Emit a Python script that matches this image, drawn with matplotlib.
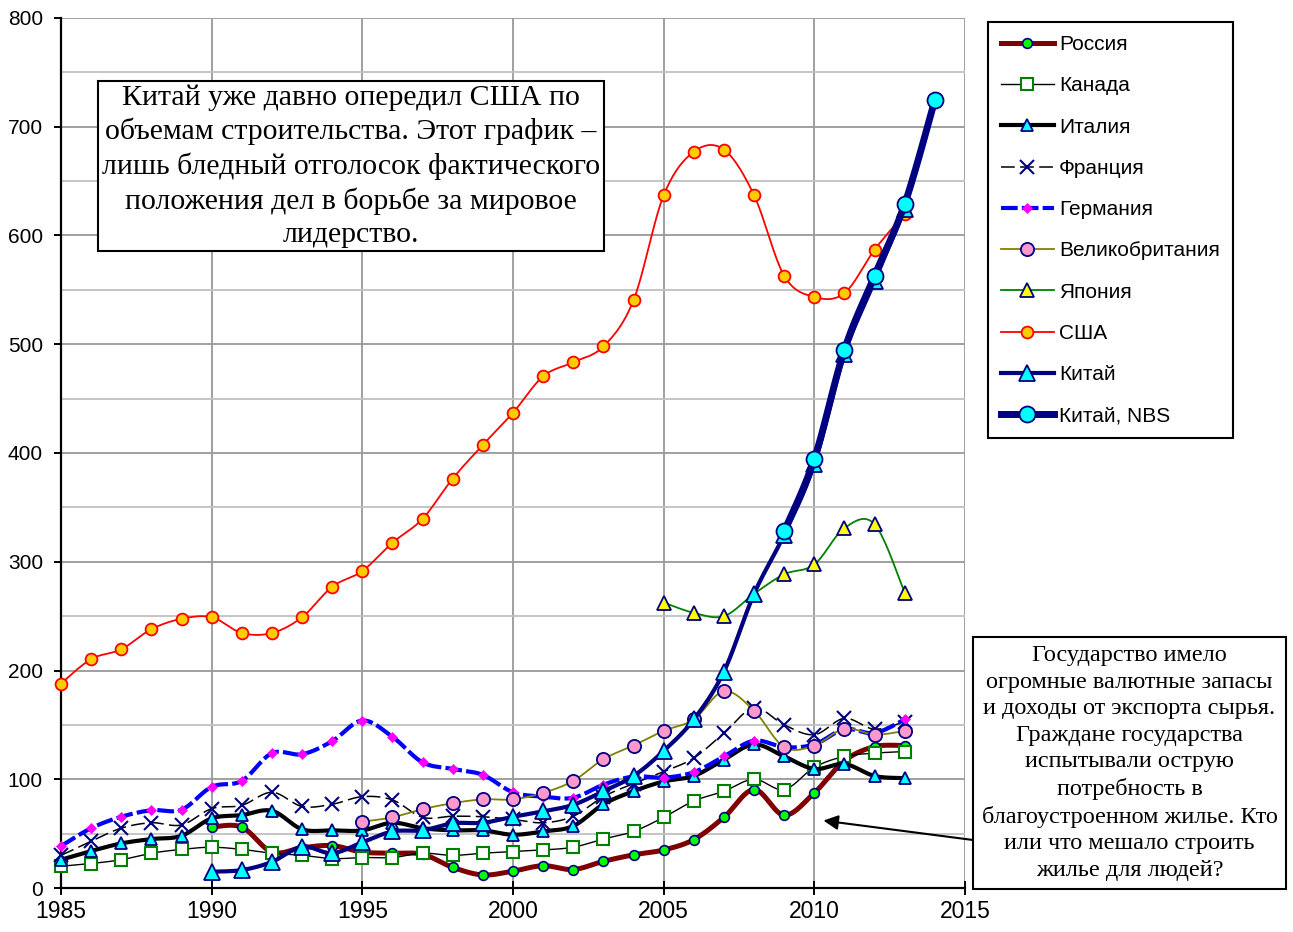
import numpy as np
import matplotlib
matplotlib.use('Agg')
import matplotlib.pyplot as plt
from matplotlib.lines import Line2D

plt.rcParams['font.family'] = ['Liberation Sans', 'DejaVu Sans']

# values, one list per series, with the first year
russia_start = 1990
russia = [56, 56, 33, 37, 39, 33, 32, 31, 19, 12, 15.5, 20.5, 17, 24.5, 30.5, 35,
          44.5, 65, 90.5, 67, 87.5, 117, 130, 131]
canada_start = 1985
canada = [20, 22.5, 26, 32, 35.5, 37.5, 35.5, 32, 30, 27, 28, 28, 32, 30, 32, 33.5,
          35, 37.5, 45, 52, 65, 80, 89, 100, 90.5, 111, 121, 124, 125.5]
italy_start = 1985
italy = [26, 34, 41, 45, 48, 64, 67, 71, 54, 53, 53, 60, 55, 53, 53, 49, 52, 57, 77,
         89, 98, 103, 118, 132, 121, 109.5, 114, 103, 101]
france_start = 1985
france = [30, 43, 55, 60, 58, 73, 76, 88, 75, 77, 84, 81, 65, 66, 65.5, 63, 60, 66,
          84, 96, 107, 119.5, 142.5, 165.5, 150, 141, 156, 146, 153]
germany_start = 1985
germany = [38.5, 55, 65.5, 71.5, 72, 93, 98.5, 124, 123, 135, 154, 139, 115.5, 109.5,
           104, 88, 84, 83, 95, 102.5, 101.5, 106.5, 121, 135.5, 129.5, 132, 146,
           142.5, 155]
uk_start = 1995
uk = [61, 65, 72.5, 78, 81.5, 81.5, 87.5, 98.5, 118.5, 131, 144.5, 155, 181, 163,
      129.5, 131, 146.5, 141, 144.5]
japan_start = 2005
japan = [262.5, 253, 250, 270.5, 288.5, 297.5, 331, 334.5, 271.5]
usa_start = 1985
usa = [188, 210.5, 219.5, 238, 247.5, 249, 234.5, 234.5, 249, 277, 291.5, 317.5,
       339.5, 376.5, 407.5, 437, 470.5, 483.5, 498, 540.5, 637, 677, 679, 637, 563,
       543.5, 547, 587, 620]
china_start = 1990
china = [15, 16.5, 24, 38, 32, 42, 52, 53, 59.5, 60, 65.5, 70.5, 76.5, 89, 103, 126,
         155, 199, 270.5, 325, 390, 491, 558, 624.5]
china_nbs_start = 2009
china_nbs = [328, 394.5, 495, 563, 629, 724.5]

names = ['Россия', 'Канада', 'Италия', 'Франция', 'Германия', 'Великобритания',
         'Япония', 'США', 'Китай', 'Китай, NBS']

note_left = ('Китай уже давно опередил США по\nобъемам строительства. Этот график –\n'
             'лишь бледный отголосок фактического\nположения дел в борьбе за мировое\n'
             'лидерство.')
note_right = ('Государство имело\nогромные валютные запасы\nи доходы от экспорта сырья.\n'
              'Граждане государства\nиспытывали острую\nпотребность в\n'
              'благоустроенном жилье. Кто\nили что мешало строить\nжилье для людей?')


def smooth(xs, ys, steps=20):
    # excel-like smoothed line (catmull-rom as bezier)
    x = np.asarray(xs, float)
    y = np.asarray(ys, float)
    if len(x) < 3:
        return x, y
    px = np.concatenate([[x[0]], x, [x[-1]]])
    py = np.concatenate([[y[0]], y, [y[-1]]])
    t = np.linspace(0, 1, steps)[:, None]
    outx, outy = [], []
    for i in range(1, len(px) - 2):
        p0 = np.array([px[i], py[i]])
        p3 = np.array([px[i + 1], py[i + 1]])
        c1 = p0 + (p3 - np.array([px[i - 1], py[i - 1]])) / 6
        c2 = p3 - (np.array([px[i + 2], py[i + 2]]) - p0) / 6
        b = ((1 - t) ** 3) * p0 + 3 * ((1 - t) ** 2) * t * c1 + 3 * (1 - t) * t ** 2 * c2 + t ** 3 * p3
        outx.append(b[:, 0])
        outy.append(b[:, 1])
    return np.concatenate(outx), np.concatenate(outy)


series = [
    (russia_start, russia, dict(color='#800000', lw=3.6),
     dict(marker='o', ms=7, mfc='#00FF00', mec='#000080', mew=1.2)),
    (canada_start, canada, dict(color='black', lw=1.0),
     dict(marker='s', ms=9, mfc='white', mec='#008000', mew=1.5)),
    (italy_start, italy, dict(color='black', lw=3.0),
     dict(marker='^', ms=8, mfc='#00FFFF', mec='#000080', mew=1.3)),
    (france_start, france, dict(color='black', lw=1.1, dashes=(9, 3.5)),
     dict(marker='x', ms=10, mfc='none', mec='#000080', mew=1.5)),
    (germany_start, germany, dict(color='#0000FF', lw=3.0, dashes=(4, 1)),
     dict(marker='D', ms=5, mfc='#FF00FF', mec='#FF00FF', mew=0.5)),
    (uk_start, uk, dict(color='#808000', lw=1.3),
     dict(marker='o', ms=9.5, mfc='#FF99CC', mec='#000080', mew=1.3)),
    (japan_start, japan, dict(color='#008000', lw=1.3),
     dict(marker='^', ms=9.5, mfc='#FFFF00', mec='#000080', mew=1.3)),
    (usa_start, usa, dict(color='#FF0000', lw=1.3),
     dict(marker='o', ms=8.5, mfc='#FFCC00', mec='#FF0000', mew=1.3)),
    (china_start, china, dict(color='#000080', lw=3.0),
     dict(marker='^', ms=11, mfc='#00FFFF', mec='#000080', mew=1.3)),
    (china_nbs_start, china_nbs, dict(color='#000080', lw=5.0),
     dict(marker='o', ms=11.5, mfc='#00FFFF', mec='#000080', mew=1.3)),
]

fig = plt.figure(figsize=(12.93, 9.32), dpi=100)
ax = fig.add_axes([61 / 1293, 44 / 932, 904 / 1293, 870 / 932])

handles = []
for k, (start, vals, lstyle, mstyle) in enumerate(series):
    years = np.arange(start, start + len(vals))
    sx, sy = smooth(years, vals)
    ax.plot(sx, sy, solid_capstyle='round', zorder=3 + k * 0.1, **lstyle)
    ax.plot(years, vals, linestyle='none', clip_on=False, zorder=3.05 + k * 0.1, **mstyle)
    handles.append(Line2D([], [], label=names[k], **lstyle, **mstyle))

ax.set_xlim(1985, 2015)
ax.set_ylim(0, 800)
ax.set_xticks(range(1985, 2016, 5))
ax.set_yticks(range(0, 801, 100))
ax.set_yticks(range(50, 800, 100), minor=True)
ax.grid(True, which='major', color='#999999', lw=1.3, zorder=0)
ax.grid(True, which='minor', axis='y', color='#C0C0C0', lw=1.3, zorder=0)
ax.set_axisbelow(True)
for s in ['top', 'right']:
    ax.spines[s].set_visible(False)
for s in ['left', 'bottom']:
    ax.spines[s].set_linewidth(1.6)
    ax.spines[s].set_zorder(2.5)
ax.tick_params(axis='y', which='major', direction='out', length=5, width=1.4,
               labelsize=15, pad=8)
ax.tick_params(axis='x', which='major', direction='inout', length=10, width=1.4,
               labelsize=16.5, pad=4)
ax.tick_params(which='minor', length=0)

ax.legend(handles=handles, loc='upper left', bbox_to_anchor=(988 / 1293, 1 - 22 / 932),
          bbox_transform=fig.transFigure, fontsize=15, handlelength=2.55,
          labelspacing=1.07, borderpad=0.62, handletextpad=0.25, fancybox=False,
          edgecolor='black', framealpha=1, borderaxespad=0)
leg = ax.get_legend()
leg.get_frame().set_linewidth(1.5)

fig.text(351 / 1293, 1 - 166 / 932, note_left, ha='center', va='center',
         family='Liberation Serif', fontsize=21.5, linespacing=1.34,
         bbox=dict(boxstyle='square,pad=0.12', fc='white', ec='black', lw=1.5), zorder=10)
fig.text(1129.5 / 1293, 1 - 763 / 932, note_right, ha='center', va='center',
         family='Liberation Serif', fontsize=17.5, linespacing=1.34,
         bbox=dict(boxstyle='square,pad=0.35', fc='white', ec='black', lw=1.5), zorder=10)

ax.annotate('', xy=(2010.3, 62), xycoords='data', xytext=(973, 92),
            textcoords='figure pixels', annotation_clip=False,
            arrowprops=dict(arrowstyle='-|>', color='black', lw=1.5, mutation_scale=22,
                            shrinkA=0, shrinkB=0))

plt.savefig('out.png', dpi=100)
